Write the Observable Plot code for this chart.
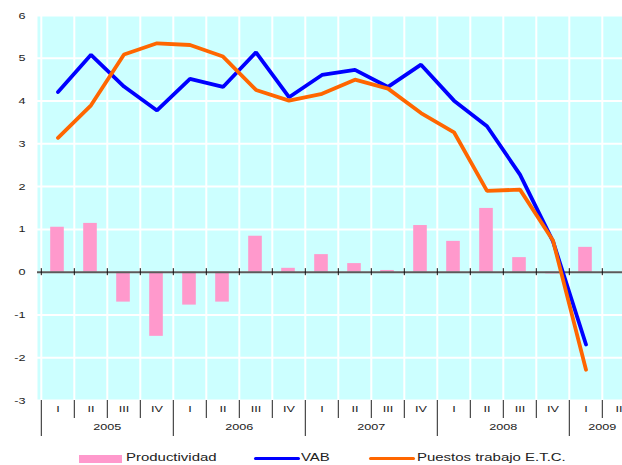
<!DOCTYPE html>
<html>
<head>
<meta charset="utf-8">
<script src="https://cdn.jsdelivr.net/npm/d3@7"></script>
<script src="https://cdn.jsdelivr.net/npm/@observablehq/plot@0.6"></script>
<style>
  html, body { margin: 0; padding: 0; background: white; overflow: hidden; }
  #wrap { position: relative; width: 622px; height: 465px; }
  #legend { position: absolute; left: 0; top: 448px; width: 622px; height: 17px;
    font-family: "Liberation Sans", Arial, sans-serif; font-size: 11.5px; color: #222; }
  .swatch { position: absolute; }
  .lbl { position: absolute; top: 2px; white-space: nowrap; transform: scaleX(1.3); transform-origin: left center; line-height: 14px; }
</style>
</head>
<body>
<div id="wrap"><div id="chart"></div><div id="legend"></div></div>
<script>
// ---- data ----
const years = ["2005", "2006", "2007", "2008", "2009"];
const quarters = ["I", "II", "III", "IV"];
// periods shown on the axis (2005 I .. 2009 II)
const periodYears = ["2005","2005","2005","2005","2006","2006","2006","2006","2007","2007","2007","2007","2008","2008","2008","2008","2009","2009"];
const periodQuarters = ["I","II","III","IV","I","II","III","IV","I","II","III","IV","I","II","III","IV","I","II"];
const productividad = [1.05, 1.14, -0.70, -1.50, -0.77, -0.70, 0.84, 0.09, 0.41, 0.20, 0.04, 1.09, 0.72, 1.49, 0.34, -0.04, 0.58];
const vab = [4.21, 5.08, 4.34, 3.78, 4.52, 4.33, 5.14, 4.09, 4.61, 4.73, 4.33, 4.85, 4.01, 3.41, 2.28, 0.72, -1.69];
const puestos = [3.14, 3.90, 5.09, 5.35, 5.31, 5.04, 4.26, 4.01, 4.17, 4.50, 4.29, 3.72, 3.27, 1.90, 1.93, 0.74, -2.28];
const yTicks = [-3, -2, -1, 0, 1, 2, 3, 4, 5, 6];
const seriesNames = ["Productividad", "VAB", "Puestos trabajo E.T.C."];
const seriesColors = ["#ff99cc", "#0000ff", "#ff6600"];

// ---- derived tables ----
const keys = periodYears.map((y, i) => y + "-" + periodQuarters[i]);
const periods = keys.map((k, i) => ({key: k, year: periodYears[i], q: periodQuarters[i]}));
const rows = productividad.map((p, i) => ({key: keys[i], prod: p, vab: vab[i], puestos: puestos[i]}));
const yearLabels = years.map(y => {
  const ks = keys.filter((k, i) => periodYears[i] === y);
  return {year: y, mid: ks[Math.floor(ks.length / 2)]};
});
const firstKeys = keys.filter((k, i) => periodQuarters[i] === "I");
const otherKeys = keys.filter((k, i) => periodQuarters[i] !== "I");

// ---- layout ----
const X0 = 37, BW = 33.4;
const X1 = X0 + BW * keys.length;
const TXT = "#222";

const chart = Plot.plot({
  width: 622,
  height: 442,
  marginTop: 15,
  marginBottom: 42,
  marginLeft: 37,
  marginRight: 0,
  style: {fontFamily: "'Liberation Sans', Arial, sans-serif", fontSize: "9.5px", color: TXT, background: "white"},
  x: {type: "band", domain: keys, range: [X0, X1], padding: 0, axis: null},
  y: {domain: [-3, 6], axis: null},
  marks: [
    Plot.frame({fill: "#ccffff", stroke: "none"}),
    Plot.ruleY(yTicks, {stroke: "white", strokeWidth: 2}),
    Plot.ruleX(keys, {x: d => d, dx: -BW / 2, stroke: "white", strokeWidth: 2}),
    Plot.barY(rows, {x: "key", y: "prod", fill: seriesColors[0], insetLeft: 9.2, insetRight: 10.2}),
    Plot.ruleY([0], {stroke: "#5a5a5a", strokeWidth: 2}),
    Plot.ruleX(keys, {x: d => d, dx: -BW / 2, y1: 0, y2: 0, insetTop: -3.5, insetBottom: -3.5, stroke: "#111", strokeWidth: 1}),
    Plot.line(rows, {x: "key", y: "vab", stroke: seriesColors[1], strokeWidth: 3.8, strokeLinejoin: "miter"}),
    Plot.line(rows, {x: "key", y: "puestos", stroke: seriesColors[2], strokeWidth: 3.8, strokeLinejoin: "miter"}),
    // y axis labels
    Plot.axisY({ticks: yTicks, tickSize: 0, tickPadding: 12, tickFormat: d => String(d), label: null, fill: TXT, fontSize: 9.5}),
    // category separators
    Plot.ruleX(otherKeys, {x: d => d, dx: -BW / 2, y1: -3, y2: -3, insetBottom: -18, stroke: "#222", strokeWidth: 1}),
    Plot.ruleX(firstKeys, {x: d => d, dx: -BW / 2, y1: -3, y2: -3, insetBottom: -36, stroke: "#222", strokeWidth: 1}),
    // quarter labels
    Plot.text(periods, {x: "key", text: "q", frameAnchor: "bottom", dy: 11, fill: TXT, fontSize: 9.5}),
    // year labels
    Plot.text(yearLabels, {x: "mid", text: "year", frameAnchor: "bottom", dy: 29, dx: -BW / 2, fill: TXT, fontSize: 9.5})
  ]
});

document.getElementById("chart").appendChild(chart);
// horizontal stretch of the text around its anchor point, as in the reference
chart.querySelectorAll("text").forEach(t => {
  const tr = t.getAttribute("transform") || "";
  let x = parseFloat(t.getAttribute("x"));
  if (!isFinite(x)) x = 0;
  t.setAttribute("transform", `${tr} translate(${x},0) scale(1.33,1) translate(${-x},0)`.trim());
});

// ---- legend ----
const legend = document.getElementById("legend");
const legendPos = [{sx: 79, sw: 43, tx: 126}, {sx: 254, sw: 46, tx: 301}, {sx: 369, sw: 46, tx: 417}];
seriesNames.forEach((name, i) => {
  const p = legendPos[i];
  const sw = document.createElement("div");
  sw.className = "swatch";
  sw.style.left = p.sx + "px";
  sw.style.width = p.sw + "px";
  sw.style.background = seriesColors[i];
  if (i === 0) { sw.style.top = "7px"; sw.style.height = "8px"; }
  else { sw.style.top = "9px"; sw.style.height = "3px"; sw.style.borderRadius = "1.5px"; }
  legend.appendChild(sw);
  const lb = document.createElement("div");
  lb.className = "lbl";
  lb.style.left = p.tx + "px";
  lb.textContent = name;
  legend.appendChild(lb);
});
</script>
</body>
</html>
